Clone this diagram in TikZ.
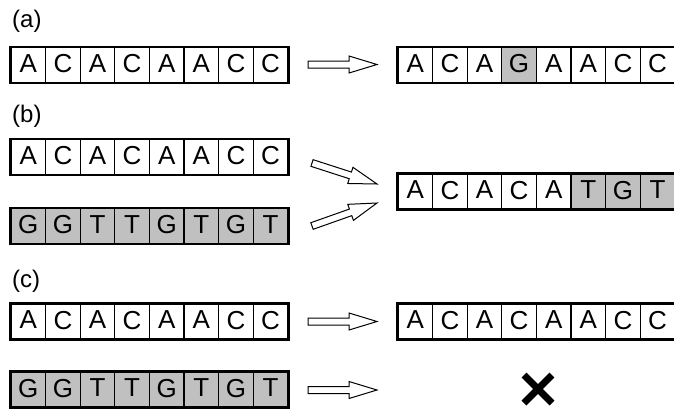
\documentclass[tikz,border=0pt]{standalone}
\usepackage{fontspec}
\setmainfont{Liberation Sans}
\usetikzlibrary{fit,calc}
\definecolor{seqgray}{RGB}{192,192,192}
\tikzset{
 cell/.style={draw, line width=1.3pt, minimum width=34.6pt, minimum height=35pt, inner sep=0pt, text depth=3pt, font=\fontsize{26}{26}\selectfont},
 outerbox/.style={draw, line width=2.2pt, inner sep=0pt},
 lbl/.style={anchor=west, inner sep=0pt, font=\fontsize{24}{24}\selectfont},
 blockarrow/.style={draw, fill=white, line width=1pt, line join=miter},
 xmark/.style={line width=7pt, black}
}
\newcommand\seqrow[4]{%
 \foreach \l/\f [count=\i] in {#4} {
   \node[cell, fill=\f] (#1-\i) at ({#2+(\i-0.5)*34.6}, #3) {\l};
 }
 \node[outerbox, fit=(#1-1)(#1-8)] (#1) {};
}
\newcommand\barrow[2]{%
 \path[blockarrow] let \p1=(#1), \p2=(#2), \n1={atan2(\y2-\y1,\x2-\x1)}, \n2={veclen(\x2-\x1,\y2-\y1)} in
 [shift={(\p1)}, rotate=\n1] (0pt,-3.5pt) -- (\n2-28pt,-3.5pt) -- (\n2-28pt,-8.5pt) -- (\n2,0pt) -- (\n2-28pt,8.5pt) -- (\n2-28pt,3.5pt) -- (0pt,3.5pt) -- cycle;
}
\begin{document}
\begin{tikzpicture}[x=1pt,y=-1pt]
\useasboundingbox (0,0) rectangle (674,408);
\node[lbl] (la) at (12,21.5) {(a)};
\node[lbl] (lb) at (12,116) {(b)};
\node[lbl] (lc) at (12,281.5) {(c)};
\seqrow{aL}{11}{65}{A/white,C/white,A/white,C/white,A/white,A/white,C/white,C/white}
\seqrow{aR}{398}{65}{A/white,C/white,A/white,G/seqgray,A/white,A/white,C/white,C/white}
\seqrow{bLa}{11}{157}{A/white,C/white,A/white,C/white,A/white,A/white,C/white,C/white}
\seqrow{bLb}{11}{226}{G/seqgray,G/seqgray,T/seqgray,T/seqgray,G/seqgray,T/seqgray,G/seqgray,T/seqgray}
\seqrow{bR}{398}{191.5}{A/white,C/white,A/white,C/white,A/white,T/seqgray,G/seqgray,T/seqgray}
\seqrow{cLa}{11}{321.5}{A/white,C/white,A/white,C/white,A/white,A/white,C/white,C/white}
\seqrow{cLb}{11}{389.5}{G/seqgray,G/seqgray,T/seqgray,T/seqgray,G/seqgray,T/seqgray,G/seqgray,T/seqgray}
\seqrow{cR}{398}{321.5}{A/white,C/white,A/white,C/white,A/white,A/white,C/white,C/white}
\coordinate (aS) at (308,64.5); \coordinate (aE) at (377,64.5);
\coordinate (b1S) at (312,163); \coordinate (b1E) at (377,184);
\coordinate (b2S) at (312,226); \coordinate (b2E) at (377,203);
\coordinate (c1S) at (308,321.5); \coordinate (c1E) at (377,321.5);
\coordinate (c2S) at (308,390); \coordinate (c2E) at (377,390);
\barrow{aS}{aE}
\barrow{b1S}{b1E}
\barrow{b2S}{b2E}
\barrow{c1S}{c1E}
\barrow{c2S}{c2E}
\coordinate (xm) at (538,389);
\draw[xmark] ($(xm)+(-14,-14)$) -- ($(xm)+(14,14)$);
\draw[xmark] ($(xm)+(-14,14)$) -- ($(xm)+(14,-14)$);
\end{tikzpicture}
\end{document}
